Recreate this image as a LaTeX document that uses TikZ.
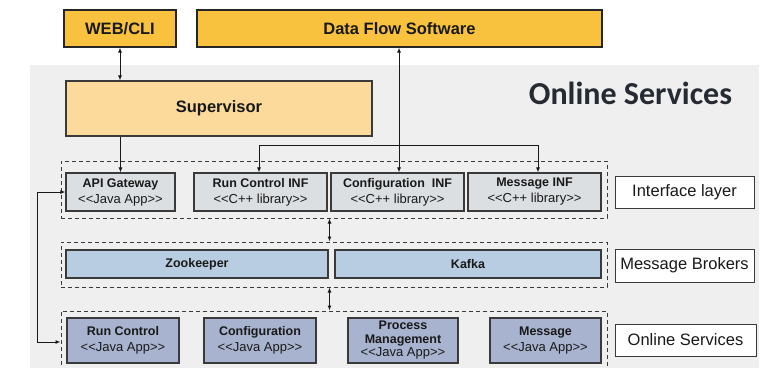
\documentclass[tikz,border=0pt]{standalone}
\usepackage{fontspec}
\setmainfont{Liberation Sans}
\newfontfamily\titlefont{Carlito}
\usetikzlibrary{arrows.meta}
\definecolor{orangeA}{HTML}{F8C13E}
\definecolor{supC}{HTML}{FBDA9C}
\definecolor{panel}{HTML}{EFEFEF}
\definecolor{ifC}{HTML}{DCDFE2}
\definecolor{brC}{HTML}{B9CDE2}
\definecolor{svC}{HTML}{A8B3CF}
\definecolor{edge}{HTML}{3A3A3A}
\definecolor{titleC}{HTML}{262A33}
\newcommand\regtxt[1]{{\fontsize{13}{15.5}\selectfont #1}}
\tikzset{
  box/.style={draw=edge, line width=1.1pt, rectangle, inner sep=0pt, align=center, text=black!90},
  topbox/.style={box, fill=orangeA, draw=black!85, font=\bfseries\fontsize{16.5}{18}\selectfont},
  supbox/.style={box, fill=supC, font=\bfseries\fontsize{16.5}{18}\selectfont},
  ifbox/.style={box, fill=ifC, font=\fontsize{12.5}{16}\selectfont},
  brbox/.style={box, fill=brC, font=\bfseries\fontsize{12.5}{15}\selectfont},
  svbox/.style={box, fill=svC, font=\fontsize{12.5}{16}\selectfont},
  dashbox/.style={draw=edge, line width=1pt, dash pattern=on 4pt off 3pt, rectangle, inner sep=0pt},
  lblbox/.style={draw=edge, line width=1pt, fill=white, rectangle, inner sep=0pt, font=\fontsize{16.5}{18}\selectfont, text=black!90},
  conn/.style={draw=black!90, line width=1pt},
  biarr/.style={conn, {Latex[length=5pt,width=4pt]}-{Latex[length=5pt,width=4pt]}},
  onearr/.style={conn, -{Latex[length=5pt,width=4pt]}},
}
\begin{document}
\begin{tikzpicture}[x=1pt,y=-1pt]
\useasboundingbox (0,0) rectangle (776,367);
% panel
\fill[panel] (30,65) rectangle (759,370);
% top boxes
\node[topbox, minimum width=112pt, minimum height=37pt] (web) at (120,28.5) {WEB/CLI};
\node[topbox, minimum width=405pt, minimum height=37pt] (dfs) at (399.5,28.5) {Data Flow Software};
\node[supbox, minimum width=306pt, minimum height=55pt] (sup) at (219,108.5) {Supervisor};
\node[font=\titlefont\bfseries\fontsize{32}{34}\selectfont, text=titleC] (title) at (630.5,93) {Online Services};
% interface layer
\node[dashbox, minimum width=546pt, minimum height=57pt] (ifl) at (334,189.5) {};
\node[ifbox, minimum width=109pt, minimum height=38pt] (api) at (120.5,192) {\textbf{API Gateway}\\\regtxt{{<}{<}Java App{>}{>}}};
\node[ifbox, minimum width=133pt, minimum height=38pt] (rcinf) at (260.5,192) {\textbf{Run Control INF}\\\regtxt{{<}{<}C++ library{>}{>}}};
\node[ifbox, minimum width=133pt, minimum height=38pt] (cfinf) at (397.5,192) {\textbf{Configuration\ \ INF}\\\regtxt{{<}{<}C++ library{>}{>}}};
\node[ifbox, minimum width=133pt, minimum height=38pt] (msinf) at (534.5,192) {\textbf{Message INF}\\\regtxt{{<}{<}C++ library{>}{>}}};
\node[lblbox, minimum width=139pt, minimum height=32pt] (lif) at (684.5,192) {Interface layer};
% brokers
\node[dashbox, minimum width=546pt, minimum height=45pt] (brl) at (334,264.5) {};
\node[brbox, minimum width=262pt, minimum height=28pt] (zoo) at (197,264) {Zookeeper};
\node[brbox, minimum width=266pt, minimum height=28pt] (kafka) at (468,264) {Kafka};
\node[lblbox, minimum width=139pt, minimum height=33pt] (lbr) at (684.5,265.5) {Message Brokers};
% services
\node[dashbox, minimum width=546pt, minimum height=62pt] (svl) at (334,342) {};
\node[svbox, minimum width=112pt, minimum height=45pt] (rc) at (123,340.5) {\textbf{Run Control}\\\regtxt{{<}{<}Java App{>}{>}}};
\node[svbox, minimum width=112pt, minimum height=45pt] (cfg) at (260,340.5) {\textbf{Configuration}\\\regtxt{{<}{<}Java App{>}{>}}};
\node[svbox, minimum width=110pt, minimum height=45pt, font=\fontsize{12.5}{13.5}\selectfont] (pm) at (403,340.5) {\textbf{Process}\\\textbf{Management}\\{\fontsize{13}{13.5}\selectfont{<}{<}Java App{>}{>}}};
\node[svbox, minimum width=111pt, minimum height=45pt] (msg) at (545.5,340.5) {\textbf{Message}\\\regtxt{{<}{<}Java App{>}{>}}};
\node[lblbox, minimum width=141pt, minimum height=32pt] (lsv) at (685.5,340) {Online Services};
% connectors
\draw[biarr] (web.south) -- (web.south |- sup.north);
\draw[onearr] (sup.south -| api.north) -- (api.north);
\coordinate (bl) at (259,145);
\coordinate (br) at (538,145);
\draw[biarr] (dfs.south -| 399,0) -- (cfinf.north -| 399,0);
\draw[onearr] (bl) -- (rcinf.north -| bl);
\draw[onearr] (br) -- (msinf.north -| br);
\draw[conn] (bl) -- (br);
\draw[biarr] (ifl.south -| 329.5,0) -- (brl.north -| 329.5,0);
\draw[biarr] (brl.south -| 329.5,0) -- (svl.north -| 329.5,0);
\coordinate (lp) at (37,342);
\draw[biarr] (api.west) -| (lp) -- (svl.west |- lp);
\end{tikzpicture}
\end{document}
